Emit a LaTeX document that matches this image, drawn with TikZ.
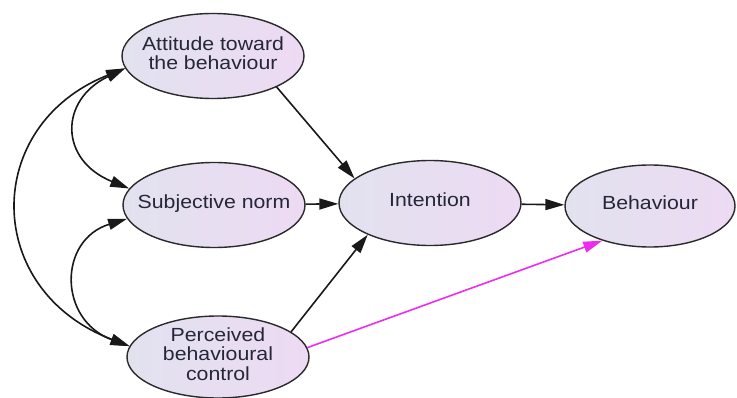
\documentclass[tikz,border=0pt]{standalone}
\usepackage{fontspec}
\setmainfont{Liberation Sans}
\usepackage{graphicx}
\usetikzlibrary{shapes.geometric,arrows.meta}

\definecolor{ink}{HTML}{26263A}
\definecolor{rim}{HTML}{2A2A2A}
\definecolor{fillL}{HTML}{E2E2EF}
\definecolor{fillR}{HTML}{EDDAF3}
\definecolor{magentaLink}{HTML}{EE2CEE}

% centred labels, set slightly wide
\newcommand{\lbl}[1]{\scalebox{1.12}[1]{\renewcommand{\arraystretch}{1}\begin{tabular}{@{}c@{}}#1\end{tabular}}}

\tikzset{
  state/.style={ellipse, draw=rim, line width=1.4pt, left color=fillL, right color=fillR,
                minimum width=182pt, minimum height=85pt, inner sep=0pt},
  caption/.style={font=\fontsize{19}{19.5}\selectfont, text=ink, inner sep=0pt},
  link/.style={draw=black!90, line width=1.6pt, -{Triangle[length=19pt,width=11pt]}},
  twoway/.style={draw=black!90, line width=1.6pt,
                 {Triangle[length=19pt,width=11pt]}-{Triangle[length=19pt,width=11pt]}},
  pbc/.style={draw=magentaLink, line width=1.6pt, -{Triangle[length=19pt,width=11pt]}},
}

\begin{document}
\begin{tikzpicture}[x=1pt,y=1pt]
  \useasboundingbox (0,0) rectangle (737,-398);
  \fill[white] (0,0) rectangle (737,-398);

  % constructs
  \node[state] (att) at (213,-56) {};
  \node[caption] (attT) at (att) {\lbl{Attitude toward\\the behaviour}};
  \node[state] (sub) at (214,-205) {};
  \node[caption] (subT) at (sub) {\lbl{Subjective norm}};
  \node[state, minimum height=82pt] (pbc) at (218,-357) {};
  \node[caption] (pbcT) at (pbc) {\lbl{Perceived\\behavioural\\control}};
  \node[state] (int) at (430,-203) {};
  \node[caption] (intT) at (int) {\lbl{Intention}};
  \node[state, minimum width=170pt, minimum height=82pt] (beh) at (650,-206) {};
  \node[caption] (behT) at (beh) {\lbl{Behaviour}};

  % correlations among the antecedents
  \draw[twoway] (pbc.173) .. controls (-18,-290) and (-18,-125) .. (att.188);
  \draw[twoway] (sub.169) .. controls (59,-160) and (59,-100) .. (att.188);
  \draw[twoway] (pbc.173) .. controls (58,-320) and (58,-240) .. (sub.189);

  % direct paths
  \draw[link] (att.334) -- (int.162);
  \draw[link] (sub) -- (int);
  \draw[link] (pbc.19) -- (int.207);
  \draw[link] (int) -- (beh);
  \draw[pbc] (pbc.6) -- (beh.216);
\end{tikzpicture}
\end{document}
